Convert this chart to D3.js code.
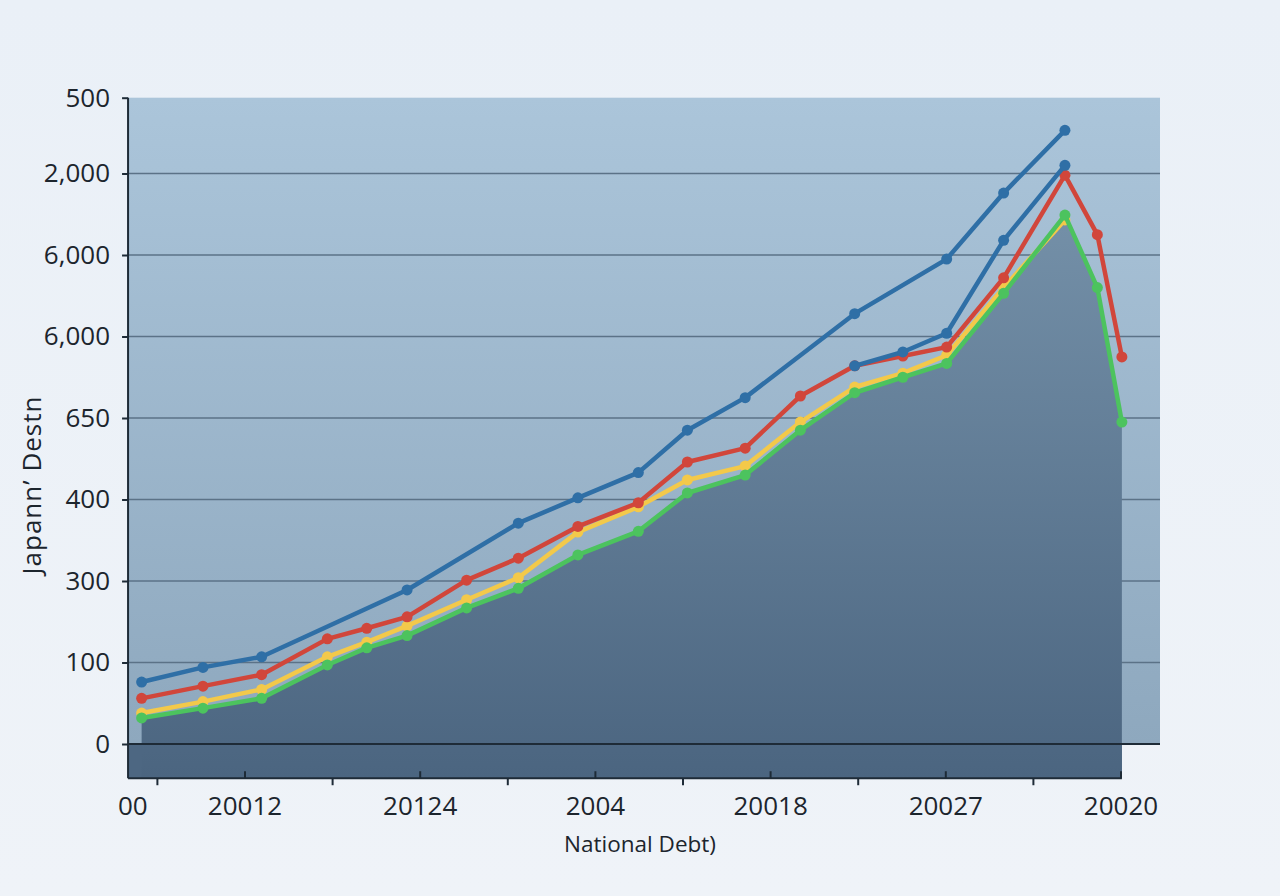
<!DOCTYPE html>
<html>
<head>
<meta charset="utf-8">
<title>Japann' Destn</title>
<script src="https://cdn.jsdelivr.net/npm/d3@7"></script>
<style>
  html, body { margin: 0; padding: 0; }
  body { width: 1280px; height: 896px; overflow: hidden; }
  text { font-family: "Open Sans", "Noto Sans", sans-serif; fill: #1c252d; }
</style>
</head>
<body>
<div id="chart"></div>
<script>
// x positions of the points (axis units, label ticks at 2,4,...,12)
var xPos   = [0.82, 1.52, 2.19, 2.94, 3.39, 3.85, 4.53, 5.12, 5.80, 6.49, 7.05, 7.71, 8.34, 8.96, 9.51, 10.01, 10.66, 11.36, 11.73, 12.01];
// series values in y-tick units (tick 0 = "0", tick 1 = "100", ...)
var blue   = [0.76, 0.94, 1.07, null, null, 1.89, null, 2.71, 3.02, 3.33, 3.85, 4.25, null, 5.28, null, 5.95, 6.76, 7.53, null, null];
var blue2  = [null, null, null, null, null, null, null, null, null, null, null, null, null, 4.64, 4.81, 5.04, 6.18, 7.10, null, null];
var red    = [0.56, 0.71, 0.85, 1.29, 1.42, 1.56, 2.01, 2.28, 2.67, 2.96, 3.46, 3.63, 4.27, 4.64, 4.76, 4.87, 5.72, 6.98, 6.25, 4.75];
var yellow = [0.38, 0.52, 0.67, 1.07, 1.25, 1.45, 1.77, 2.04, 2.60, 2.91, 3.24, 3.41, 3.95, 4.38, 4.55, 4.77, 5.60, 6.43, null, null];
var green  = [0.32, 0.44, 0.56, 0.97, 1.18, 1.33, 1.67, 1.91, 2.32, 2.61, 3.08, 3.30, 3.85, 4.31, 4.50, 4.67, 5.53, 6.49, 5.60, 3.95];

var yTickVals   = [0, 1, 2, 3, 4, 5, 6, 7, 7.93];
var yTickLabels = ["0", "100", "300", "400", "650", "6,000", "6,000", "2,000", "500"];
var xTickVals   = [0.72, 2, 4, 6, 8, 10, 12];
var xTickLabels = ["00", "20012", "20124", "2004", "20018", "20027", "20020"];
var xMinorVals  = [1, 3, 5, 7, 9, 11];

var W = 1280, H = 896;
var svg = d3.select("#chart").append("svg").attr("width", W).attr("height", H);
var defs = svg.append("defs");

var pg = defs.append("linearGradient").attr("id", "page").attr("x1", 0).attr("y1", 0).attr("x2", 0).attr("y2", 1);
pg.append("stop").attr("offset", "0%").attr("stop-color", "#eaf0f7");
pg.append("stop").attr("offset", "100%").attr("stop-color", "#eff3f8");

var bg = defs.append("linearGradient").attr("id", "plotbg").attr("x1", 0).attr("y1", 0).attr("x2", 0).attr("y2", 1);
bg.append("stop").attr("offset", "0%").attr("stop-color", "#abc5da");
bg.append("stop").attr("offset", "100%").attr("stop-color", "#8ea8be");

var ag = defs.append("linearGradient").attr("id", "areafill").attr("gradientUnits", "userSpaceOnUse")
  .attr("x1", 0).attr("y1", 200).attr("x2", 0).attr("y2", 778);
ag.append("stop").attr("offset", "0%").attr("stop-color", "#7591a9");
ag.append("stop").attr("offset", "100%").attr("stop-color", "#4b6580");

svg.append("rect").attr("width", W).attr("height", H).attr("fill", "url(#page)");

var x = d3.scaleLinear().domain([2, 12]).range([245, 1121]);
var y = d3.scaleLinear().domain([0, 7]).range([744, 173.5]);

var plotL = x(0.665), plotR = 1160;
var plotT = y(7.93), plotB = y(-0.42);

// plot background
svg.append("rect").attr("x", plotL).attr("y", plotT)
  .attr("width", plotR - plotL).attr("height", y(0) - plotT)
  .attr("fill", "url(#plotbg)");

// dark band under the zero line
svg.append("rect").attr("x", plotL).attr("y", y(0))
  .attr("width", x(12.01) - plotL).attr("height", plotB - y(0))
  .attr("fill", "#4d6782");

// grid lines
svg.append("g").selectAll("line").data([1, 2, 3, 4, 5, 6, 7]).enter().append("line")
  .attr("x1", plotL).attr("x2", plotR)
  .attr("y1", function(d) { return y(d); }).attr("y2", function(d) { return y(d); })
  .attr("stroke", "#5b7287").attr("stroke-width", 1.3);

function pts(arr) {
  return arr.map(function(v, i) { return v == null ? null : [xPos[i], v]; })
            .filter(function(p) { return p; });
}

// area under the green series
var area = d3.area()
  .x(function(d) { return x(d[0]); })
  .y0(plotB)
  .y1(function(d) { return y(d[1]); });
svg.append("path").datum(pts(green)).attr("d", area).attr("fill", "url(#areafill)");

// zero line
svg.append("line").attr("x1", plotL).attr("x2", plotR)
  .attr("y1", y(0)).attr("y2", y(0))
  .attr("stroke", "#1e2b37").attr("stroke-width", 2);

var line = d3.line().x(function(d) { return x(d[0]); }).y(function(d) { return y(d[1]); });

var series = [
  { vals: yellow, color: "#f3c94a" },
  { vals: green,  color: "#4cc35e" },
  { vals: red,    color: "#d1463b" },
  { vals: blue2,  color: "#2f6fa6" },
  { vals: blue,   color: "#2f6fa6" }
];

series.forEach(function(s) {
  var p = pts(s.vals);
  svg.append("path").datum(p).attr("d", line)
    .attr("fill", "none").attr("stroke", s.color)
    .attr("stroke-width", 4.5).attr("stroke-linejoin", "round").attr("stroke-linecap", "round");
  svg.append("g").selectAll("circle").data(p).enter().append("circle")
    .attr("cx", function(d) { return x(d[0]); })
    .attr("cy", function(d) { return y(d[1]); })
    .attr("r", 5.5).attr("fill", s.color);
});

// y axis
var yAxis = d3.axisLeft(y).tickValues(yTickVals)
  .tickFormat(function(d, i) { return yTickLabels[i]; })
  .tickSize(6).tickPadding(12);
var ya = svg.append("g").attr("transform", "translate(" + plotL + ",0)").call(yAxis);
ya.select(".domain").remove();
ya.selectAll(".tick line").attr("stroke", "#1e2b37").attr("stroke-width", 2);
ya.selectAll(".tick text").attr("font-size", 26).attr("fill", "#1c252d")
  .attr("font-family", "'Open Sans', sans-serif");
svg.append("line").attr("x1", plotL).attr("x2", plotL).attr("y1", plotT).attr("y2", plotB)
  .attr("stroke", "#1e2b37").attr("stroke-width", 2);

// x axis
svg.append("line").attr("x1", plotL).attr("x2", x(12.01)).attr("y1", plotB).attr("y2", plotB)
  .attr("stroke", "#1e2b37").attr("stroke-width", 2);
svg.append("g").selectAll("line").data(xTickVals.slice(1)).enter().append("line")
  .attr("x1", function(d) { return x(d); }).attr("x2", function(d) { return x(d); })
  .attr("y1", plotB - 7).attr("y2", plotB)
  .attr("stroke", "#1e2b37").attr("stroke-width", 2);
svg.append("g").selectAll("line").data(xMinorVals).enter().append("line")
  .attr("x1", function(d) { return x(d); }).attr("x2", function(d) { return x(d); })
  .attr("y1", plotB).attr("y2", plotB + 7)
  .attr("stroke", "#1e2b37").attr("stroke-width", 2);
svg.append("g").selectAll("text").data(xTickVals).enter().append("text")
  .attr("x", function(d) { return x(d); })
  .attr("y", 815)
  .attr("text-anchor", "middle").attr("font-size", 26)
  .text(function(d, i) { return xTickLabels[i]; });

// axis titles
svg.append("text").attr("x", 640).attr("y", 852).attr("text-anchor", "middle")
  .attr("font-size", 22.5).text("National Debt)");
svg.append("text").attr("transform", "translate(41,485) rotate(-90)")
  .attr("text-anchor", "middle").attr("font-size", 26).attr("letter-spacing", 1)
  .text("Japann’ Destn");
</script>
</body>
</html>
